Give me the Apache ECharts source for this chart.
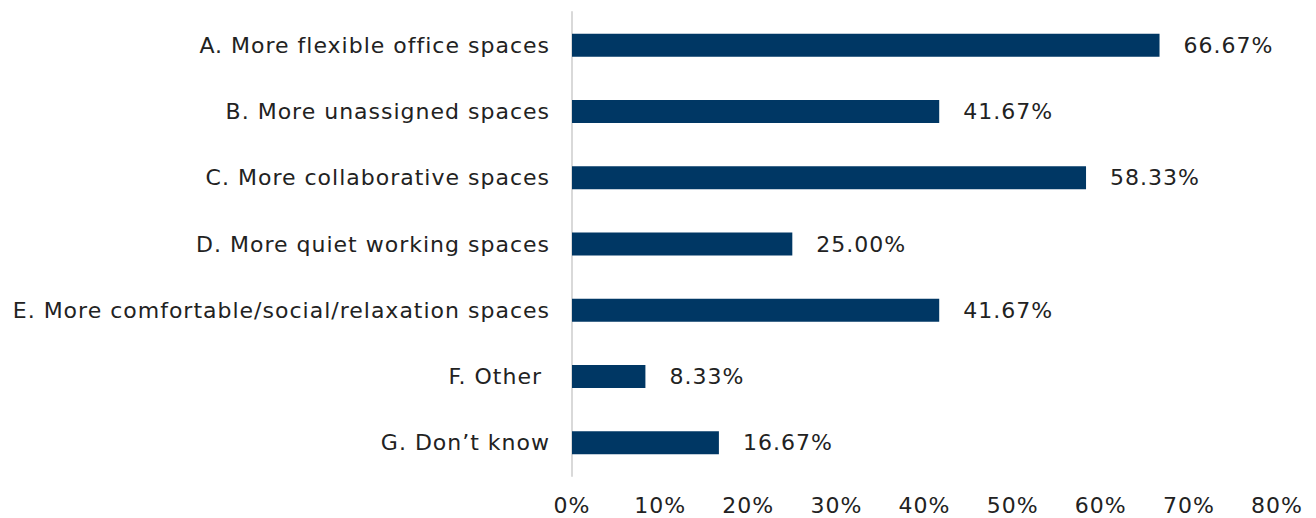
<!DOCTYPE html>
<html>
<head>
<meta charset="utf-8">
<script src="https://cdn.jsdelivr.net/npm/echarts@6/dist/echarts.min.js"></script>
<style>
  html, body { margin: 0; padding: 0; background: #fff; }
  #chart { width: 1316px; height: 518px; }
  /* wide, airy lettering for all chart text */
  #chart svg text { letter-spacing: 1px; }
</style>
</head>
<body>
<div id="chart"></div>
<script>
// Survey answers: preferred changes to the workplace
const categories = [
  'A. More flexible office spaces',
  'B. More unassigned spaces',
  'C. More collaborative spaces',
  'D. More quiet working spaces',
  'E. More comfortable/social/relaxation spaces',
  'F. Other ',
  'G. Don\u2019t know'
];
const shares = [66.67, 41.67, 58.33, 25.00, 41.67, 8.33, 16.67];
const xTicks = [0, 10, 20, 30, 40, 50, 60, 70, 80];

const FONT = '"DejaVu Sans", sans-serif';
const TEXT = '#222222';
const SIZE = 22;

const chart = echarts.init(document.getElementById('chart'), null, { renderer: 'svg' });
chart.setOption({
  animation: false,
  backgroundColor: '#ffffff',
  grid: { left: 572, right: 39, top: 12, bottom: 42, containLabel: false },
  xAxis: {
    type: 'value',
    min: xTicks[0],
    max: xTicks[xTicks.length - 1],
    interval: 10,
    axisLine: { show: false },
    axisTick: { show: false },
    splitLine: { show: false },
    axisLabel: {
      color: TEXT, fontFamily: FONT, fontSize: SIZE, margin: 18,
      formatter: v => v + '%'
    }
  },
  yAxis: {
    type: 'category',
    data: categories,
    inverse: true,
    axisLine: { show: true, lineStyle: { color: '#d9d9d9', width: 2 } },
    axisTick: { show: false },
    splitLine: { show: false },
    axisLabel: { color: TEXT, fontFamily: FONT, fontSize: SIZE, margin: 22 }
  },
  series: [{
    type: 'bar',
    data: shares,
    barWidth: 23,
    itemStyle: { color: '#003764' },
    label: {
      show: true, position: 'right', distance: 24,
      color: TEXT, fontFamily: FONT, fontSize: SIZE,
      formatter: p => p.value.toFixed(2) + '%'
    }
  }]
});
</script>
</body>
</html>
